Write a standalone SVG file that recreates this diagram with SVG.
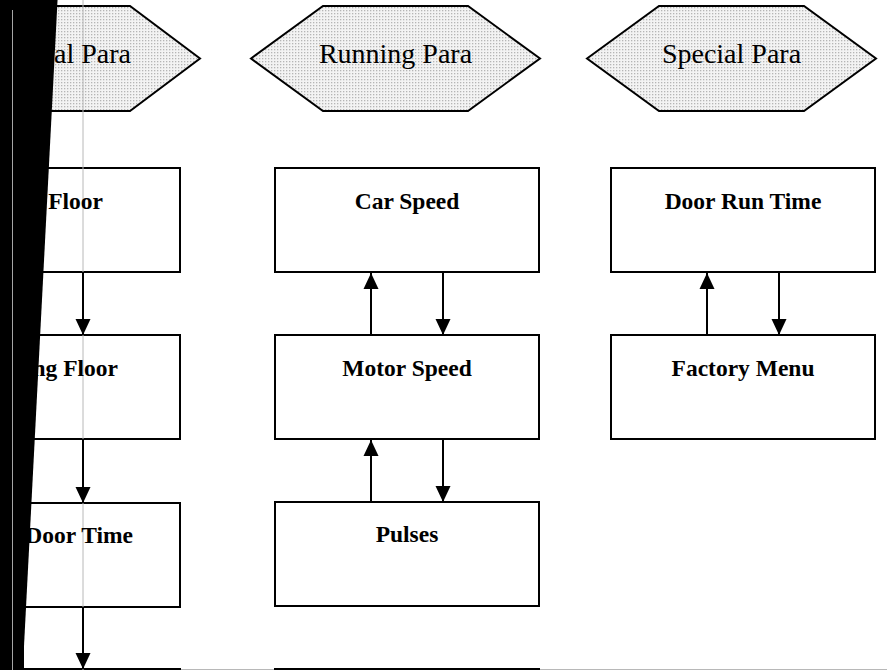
<svg xmlns="http://www.w3.org/2000/svg" width="887" height="670" viewBox="0 0 887 670">
<style>
.hex{fill:url(#dots);stroke:#000;stroke-width:2}
.box{fill:#fff;stroke:#000;stroke-width:2}
.ht{font-family:"Liberation Serif","Times New Roman",serif;font-size:28px;fill:#000}
.bt{font-family:"Liberation Serif","Times New Roman",serif;font-size:23.5px;font-weight:bold;fill:#000}
.guide{stroke:#b8b8b8;stroke-width:1;fill:none}
.arr{stroke:#000;stroke-width:2;fill:none;marker-end:url(#ah)}
</style>
<defs>
<pattern id="dots" width="3" height="3" patternUnits="userSpaceOnUse">
<rect width="3" height="3" fill="#f3f3f3"/>
<rect x="1" y="1" width="1.3" height="1.3" fill="#b5b5b5"/>
</pattern>
<marker id="ah" markerUnits="userSpaceOnUse" markerWidth="16" markerHeight="16" refX="16" refY="7.5" orient="auto" viewBox="0 0 16 15">
<path d="M0,0 L16,7.5 L0,15 Z" fill="#000"/>
</marker>
</defs>
<rect width="887" height="670" fill="#fff"/>
<line class="guide" x1="0" y1="669.5" x2="887" y2="669.5"/>

<g id="hex-general">
<polygon class="hex" points="-89,58.5 -19,6 130,6 200,58.5 130,111 -19,111"/>
</g>
<g id="hex-running">
<polygon class="hex" points="251,58.5 323,6 468,6 540,58.5 468,111 323,111"/>
<text class="ht" x="395.5" y="63" text-anchor="middle">Running Para</text>
</g>
<g id="hex-special">
<polygon class="hex" points="587,58.5 659,6 804,6 876,58.5 804,111 659,111"/>
<text class="ht" x="731.5" y="63" text-anchor="middle">Special Para</text>
</g>

<g id="box-l1"><rect class="box" x="-84" y="168" width="264" height="104"/></g>
<g id="box-l2"><rect class="box" x="-84" y="335" width="264" height="104"/></g>
<g id="box-l3"><rect class="box" x="-84" y="503" width="264" height="104"/></g>
<g id="box-l4"><rect class="box" x="-84" y="669" width="264" height="104"/></g>

<g id="box-car"><rect class="box" x="275" y="168" width="264" height="104"/><text class="bt" x="407" y="209" text-anchor="middle">Car Speed</text></g>
<g id="box-motor"><rect class="box" x="275" y="335" width="264" height="104"/><text class="bt" x="407" y="376" text-anchor="middle">Motor Speed</text></g>
<g id="box-pulses"><rect class="box" x="275" y="502" width="264" height="104"/><text class="bt" x="407" y="542" text-anchor="middle">Pulses</text></g>
<g id="box-m4"><rect class="box" x="275" y="669" width="264" height="104"/></g>

<g id="box-door"><rect class="box" x="611" y="168" width="264" height="104"/><text class="bt" x="743" y="209" text-anchor="middle">Door Run Time</text></g>
<g id="box-factory"><rect class="box" x="611" y="335" width="264" height="104"/><text class="bt" x="743" y="376" text-anchor="middle">Factory Menu</text></g>

<line class="guide" x1="83" y1="0" x2="83" y2="670"/>

<g id="left-texts">
<text class="ht" x="131" y="63" text-anchor="end">al Para</text>
<text class="bt" x="103" y="209" text-anchor="end">Floor</text>
<text class="bt" x="118" y="376" text-anchor="end">ng Floor</text>
<text class="bt" x="133" y="543" text-anchor="end">Door Time</text>
</g>

<g id="connectors">
<line class="arr" x1="83" y1="272" x2="83" y2="335"/>
<line class="arr" x1="83" y1="439" x2="83" y2="503"/>
<line class="arr" x1="83" y1="607" x2="83" y2="669"/>
<line class="arr" x1="371" y1="335" x2="371" y2="273"/>
<line class="arr" x1="443" y1="272" x2="443" y2="335"/>
<line class="arr" x1="371" y1="502" x2="371" y2="440"/>
<line class="arr" x1="443" y1="439" x2="443" y2="502"/>
<line class="arr" x1="707" y1="335" x2="707" y2="273"/>
<line class="arr" x1="779" y1="272" x2="779" y2="335"/>
</g>

<rect x="0" y="0" width="24" height="670" fill="#000"/>
<polygon points="-10,-5 57.8,-5 22.5,675 -10,675" fill="#000"/>
<line x1="12.5" y1="10" x2="12.5" y2="670" stroke="#d0d0d0" stroke-width="0.8"/>
</svg>
